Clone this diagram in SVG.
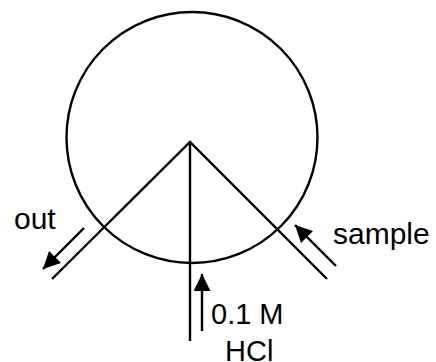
<svg xmlns="http://www.w3.org/2000/svg" width="436" height="362" viewBox="0 0 436 362">
<style>
.l{fill:none;stroke:#000;stroke-width:2.4;stroke-linecap:butt}
.a{fill:none;stroke:#000;stroke-width:2.4;marker-end:url(#h)}
text{font-family:"Liberation Sans",Arial,sans-serif;font-size:30px;fill:#000}
.s{font-size:29px}
</style>
<defs><marker id="h" markerUnits="userSpaceOnUse" markerWidth="20" markerHeight="20" refX="17" refY="8.5" orient="auto"><path d="M0,0L17,8.5L0,17Z" fill="#000"/></marker></defs>
<rect width="436" height="362" fill="#fff"/>
<g id="vessel"><circle cx="192" cy="137.5" r="125.5" class="l"/></g>
<g id="connectors">
<path class="l" d="M52,279L190,142L327,279M190,142V341"/>
<path class="a" d="M84,228L43,269"/>
<path class="a" d="M336,266L295,225"/>
<path class="a" d="M202,331V274"/>
</g>
<g id="out"><text x="14" y="229">out</text></g>
<g id="sample"><text x="333" y="244">sample</text></g>
<g id="hcl"><text class="s" x="211" y="324">0.1 M</text><text class="s" x="225" y="361">HCl</text></g>
</svg>
